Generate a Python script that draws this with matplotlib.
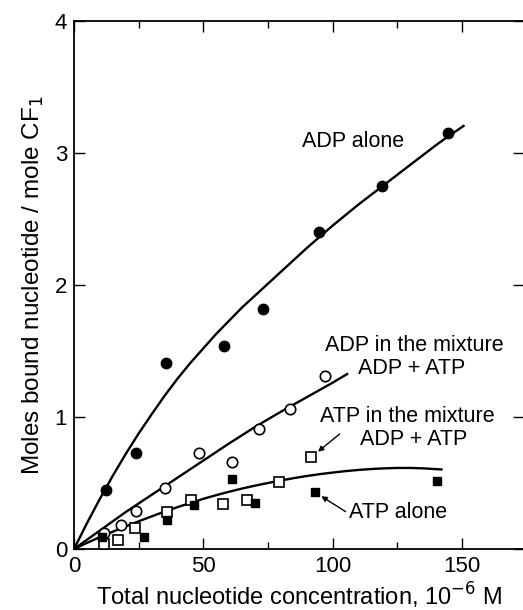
import matplotlib
matplotlib.use("Agg")
import matplotlib.pyplot as plt
from matplotlib.ticker import MultipleLocator

plt.rcParams['font.family'] = ['Liberation Sans', 'DejaVu Sans']

# ---- data ----
adp_alone_x = [12.3, 23.9, 35.7, 57.8, 73.0, 94.6, 118.9, 144.7]
adp_alone_y = [0.45, 0.725, 1.41, 1.54, 1.82, 2.40, 2.75, 3.15]

adp_mix_x = [11.6, 18.3, 23.9, 35.1, 48.4, 61.0, 71.4, 83.7, 96.9]
adp_mix_y = [0.12, 0.18, 0.29, 0.46, 0.73, 0.66, 0.91, 1.06, 1.31]

atp_mix_x = [11.6, 17.2, 23.6, 35.8, 45.2, 57.5, 66.9, 79.2, 91.7]
atp_mix_y = [0.04, 0.07, 0.16, 0.28, 0.37, 0.34, 0.37, 0.505, 0.70]

atp_alone_x = [11.0, 26.9, 35.8, 46.5, 61.1, 69.8, 93.3, 140.2]
atp_alone_y = [0.09, 0.09, 0.22, 0.33, 0.53, 0.35, 0.43, 0.515]

# fitted curves
curve_adp_alone_x = [0, 5, 10, 15, 20, 25, 30, 35, 40, 45, 50, 55, 60, 65, 70, 75, 80, 85, 90,
                     95, 100, 105, 110, 115, 120, 125, 130, 135, 140, 145, 151]
curve_adp_alone_y = [0, 0.195, 0.38, 0.555, 0.72, 0.875, 1.02, 1.16, 1.29, 1.41, 1.52, 1.63,
                     1.73, 1.83, 1.92, 2.01, 2.10, 2.19, 2.28, 2.365, 2.45, 2.53, 2.61, 2.685,
                     2.76, 2.835, 2.91, 2.985, 3.06, 3.13, 3.21]

curve_adp_mix_x = [0, 10, 20, 30, 40, 50, 60, 70, 80, 90, 100, 106]
curve_adp_mix_y = [0, 0.14, 0.28, 0.41, 0.54, 0.67, 0.80, 0.925, 1.04, 1.15, 1.26, 1.33]

curve_atp_x = [0, 5, 10, 15, 20, 25, 30, 35, 40, 45, 50, 55, 60, 65, 70, 75, 80, 85, 90, 95,
               100, 105, 110, 115, 120, 125, 130, 135, 142.5]
curve_atp_y = [0, 0.046, 0.09, 0.131, 0.171, 0.21, 0.247, 0.283, 0.317, 0.349, 0.38, 0.408,
               0.434, 0.458, 0.48, 0.50, 0.519, 0.537, 0.553, 0.567, 0.579, 0.59, 0.599,
               0.606, 0.611, 0.614, 0.614, 0.611, 0.602]

x_ticks = [0, 50, 100, 150]
y_ticks = [0, 1, 2, 3, 4]

fig = plt.figure(figsize=(5.23, 6.10), dpi=100)
ax = fig.add_axes([0.1415, 0.1, 1.002 - 0.1415, 0.9656 - 0.1])

lw = 1.7
for cx, cy in [(curve_adp_alone_x, curve_adp_alone_y),
               (curve_adp_mix_x, curve_adp_mix_y),
               (curve_atp_x, curve_atp_y)]:
    ax.plot(cx, cy, color='black', lw=lw, solid_capstyle='butt', solid_joinstyle='round')

ax.plot(adp_alone_x, adp_alone_y, 'o', color='black', ms=7.5, ls='none', zorder=5)
ax.plot(adp_mix_x, adp_mix_y, 'o', mfc='white', mec='black', mew=1.2, ms=7.5, ls='none', zorder=5)
ax.plot(atp_mix_x, atp_mix_y, 's', mfc='white', mec='black', mew=1.2, ms=6.5, ls='none', zorder=5)
ax.plot(atp_alone_x, atp_alone_y, 's', color='black', ms=6, ls='none', zorder=5)

fs = 15.5
ax.text(107.8, 3.086, 'ADP alone', ha='center', va='center', fontsize=fs)
ax.text(131.4, 1.545, 'ADP in the mixture', ha='center', va='center', fontsize=fs)
ax.text(130.7, 1.364, 'ADP + ATP', ha='center', va='center', fontsize=fs)
ax.text(128.8, 1.0, 'ATP in the mixture', ha='center', va='center', fontsize=fs)
ax.text(131.4, 0.826, 'ADP + ATP', ha='center', va='center', fontsize=fs)
ax.text(125.2, 0.275, 'ATP alone', ha='center', va='center', fontsize=fs)

ax.annotate('', xy=(94.3, 0.737), xytext=(102.7, 0.871),
            arrowprops=dict(arrowstyle='-|>', color='black', lw=1.0, mutation_scale=8,
                            shrinkA=0, shrinkB=0))
ax.annotate('', xy=(95.6, 0.40), xytext=(105.0, 0.283),
            arrowprops=dict(arrowstyle='-|>', color='black', lw=1.0, mutation_scale=8,
                            shrinkA=0, shrinkB=0))

ax.set_xlim(0, 174)
ax.set_ylim(0, 4)
ax.set_xticks(x_ticks)
ax.set_yticks(y_ticks)
ax.xaxis.set_minor_locator(MultipleLocator(25))
ax.tick_params(which='both', direction='in', top=True, right=True, labelsize=16, width=1.0, pad=5)
ax.tick_params(which='major', length=8)
ax.tick_params(which='minor', length=5)
for s in ax.spines.values():
    s.set_linewidth(1.3)

ax.set_xlabel('Total nucleotide concentration, 10$^{-6}$ M', fontsize=17, labelpad=3)
ax.set_ylabel('Moles bound nucleotide / mole CF$_1$', fontsize=17.5, labelpad=6)

fig.savefig('out.png', dpi=100)
